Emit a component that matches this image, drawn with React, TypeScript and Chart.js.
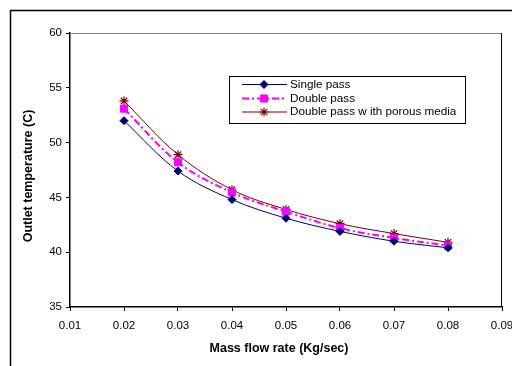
import React, { useEffect, useRef } from "react";
import { Chart, registerables } from "chart.js";

Chart.register(...registerables);

const massFlow = [0.02, 0.03, 0.04, 0.05, 0.06, 0.07, 0.08];
const singlePass = [52.0, 47.4, 44.8, 43.1, 41.9, 41.0, 40.4];
const doublePass = [53.1, 48.2, 45.45, 43.7, 42.2, 41.3, 40.6];
const porousPass = [53.8, 48.9, 45.7, 43.9, 42.6, 41.7, 40.9];
const seriesNames = ["Single pass", "Double pass", "Double pass w ith porous media"];
const xTicks = [0.01, 0.02, 0.03, 0.04, 0.05, 0.06, 0.07, 0.08, 0.09];
const yTicks = [35, 40, 45, 50, 55, 60];
const xTitle = "Mass flow rate (Kg/sec)";
const yTitle = "Outlet temperature (C)";

const FONT = "'Liberation Sans', Arial, sans-serif";

function drawMarker(ctx: CanvasRenderingContext2D, style: string, x: number, y: number, r: number, color: string) {
  ctx.save();
  ctx.fillStyle = color;
  ctx.strokeStyle = color;
  ctx.lineWidth = 1;
  ctx.beginPath();
  if (style === "rectRot") {
    ctx.moveTo(x, y - r);
    ctx.lineTo(x + r, y);
    ctx.lineTo(x, y + r);
    ctx.lineTo(x - r, y);
    ctx.closePath();
    ctx.fill();
    ctx.stroke();
  } else if (style === "rect") {
    const s = r * Math.SQRT1_2;
    ctx.rect(x - s, y - s, 2 * s, 2 * s);
    ctx.fill();
    ctx.stroke();
  } else {
    ctx.lineWidth = 1.2;
    for (let k = 0; k < 4; k++) {
      const a = (k * Math.PI) / 4;
      ctx.moveTo(x - Math.cos(a) * r, y - Math.sin(a) * r);
      ctx.lineTo(x + Math.cos(a) * r, y + Math.sin(a) * r);
    }
    ctx.stroke();
  }
  ctx.restore();
}

const framePlugin = {
  id: "frame",
  beforeDraw(chart: any) {
    const ctx = chart.ctx;
    ctx.save();
    ctx.fillStyle = "#fff";
    ctx.fillRect(0, 0, chart.width, chart.height);
    ctx.strokeStyle = "#000";
    ctx.lineWidth = 1.5;
    ctx.beginPath();
    ctx.moveTo(10.5, chart.height);
    ctx.lineTo(10.5, 10.5);
    ctx.lineTo(chart.width, 10.5);
    ctx.stroke();

    // axis titles
    ctx.fillStyle = "#000";
    ctx.font = "bold 12.5px " + FONT;
    ctx.textAlign = "center";
    ctx.textBaseline = "middle";
    ctx.fillText(xTitle, 279, 348.5);
    ctx.translate(28.5, 176);
    ctx.rotate(-Math.PI / 2);
    ctx.fillText(yTitle, 0, 0);
    ctx.restore();
  },
  afterDatasetsDraw(chart: any) {
    const { ctx, chartArea } = chart;
    const { left, right, top, bottom } = chartArea;
    ctx.save();
    ctx.lineWidth = 1;
    ctx.strokeStyle = "#808080";
    ctx.beginPath();
    ctx.moveTo(left, top + 0.5);
    ctx.lineTo(right, top + 0.5);
    ctx.stroke();
    ctx.strokeStyle = "#000";
    ctx.beginPath();
    ctx.moveTo(right - 0.5, top);
    ctx.lineTo(right - 0.5, bottom);
    ctx.stroke();

    // legend box
    const bx = 229.5, by = 76.5, bw = 236, bh = 47;
    ctx.fillStyle = "#fff";
    ctx.fillRect(bx, by, bw, bh);
    ctx.strokeStyle = "#000";
    ctx.lineWidth = 1;
    ctx.strokeRect(bx, by, bw, bh);
    const rowsY = [84.5, 98.5, 112];
    chart.data.datasets.forEach((ds: any, i: number) => {
      const y = rowsY[i];
      ctx.save();
      ctx.strokeStyle = ds.borderColor;
      ctx.lineWidth = ds.borderWidth;
      ctx.setLineDash(ds.borderDash || []);
      ctx.beginPath();
      ctx.moveTo(242, y);
      ctx.lineTo(287, y);
      ctx.stroke();
      ctx.restore();
      drawMarker(ctx, ds.pointStyle, 264, y, ds.pointRadius, ds.pointBackgroundColor);
      ctx.fillStyle = "#000";
      ctx.font = "11.7px " + FONT;
      ctx.textBaseline = "middle";
      ctx.fillText(seriesNames[i], 290, y);
    });
    ctx.restore();
  },
};

export default function App() {
  const ref = useRef<HTMLCanvasElement>(null);
  useEffect(() => {
    if (!ref.current) return;
    const chart = new Chart(ref.current, {
      type: "line",
      data: {
        datasets: [
          {
            label: seriesNames[0],
            data: massFlow.map((x, i) => ({ x, y: singlePass[i] })),
            borderColor: "#000080",
            backgroundColor: "#000080",
            pointBackgroundColor: "#000080",
            pointBorderColor: "#000080",
            pointBorderWidth: 1,
            borderWidth: 1,
            pointStyle: "rectRot",
            pointRadius: 4,
            tension: 0.35,
          },
          {
            label: seriesNames[1],
            data: massFlow.map((x, i) => ({ x, y: doublePass[i] })),
            borderColor: "#FF00FF",
            backgroundColor: "#FF00FF",
            pointBackgroundColor: "#FF00FF",
            pointBorderColor: "#FF00FF",
            pointBorderWidth: 1,
            borderWidth: 2,
            borderDash: [7, 3, 2, 3],
            pointStyle: "rect",
            pointRadius: 5,
            tension: 0.35,
          },
          {
            label: seriesNames[2],
            data: massFlow.map((x, i) => ({ x, y: porousPass[i] })),
            borderColor: "#800000",
            backgroundColor: "#800000",
            pointBackgroundColor: "#800000",
            pointBorderColor: "#800000",
            pointBorderWidth: 1.2,
            borderWidth: 1,
            pointStyle: "star",
            pointRadius: 4.5,
            tension: 0.35,
          },
        ],
      },
      options: {
        responsive: false,
        animation: false,
        layout: { padding: { left: 21, top: 33, right: 10, bottom: 10 } },
        plugins: {
          legend: { display: false },
          tooltip: { enabled: false },
        },
        scales: {
          x: {
            type: "linear",
            min: 0.01,
            max: 0.09,
            afterBuildTicks: (s: any) => {
              s.ticks = xTicks.map((v) => ({ value: v }));
            },
            afterFit: (s: any) => {
              s.height = 49;
              s.paddingLeft = 0;
              s.paddingRight = 0;
            },
            ticks: {
              color: "#000",
              font: { family: FONT, size: 11.5 },
              padding: 8,
              maxRotation: 0,
              autoSkip: false,
              callback: (v: any) => Number(v).toFixed(2),
            },
            grid: { drawOnChartArea: false, tickLength: 4, color: "#000" },
            border: { color: "#000", width: 1.5 },
            title: { display: false },
          },
          y: {
            type: "linear",
            min: 35,
            max: 60,
            afterBuildTicks: (s: any) => {
              s.ticks = yTicks.map((v) => ({ value: v }));
            },
            afterFit: (s: any) => {
              s.width = 49;
              s.paddingTop = 0;
              s.paddingBottom = 0;
            },
            ticks: {
              color: "#000",
              font: { family: FONT, size: 11.5 },
              padding: 4,
            },
            grid: { drawOnChartArea: false, tickLength: 4, color: "#000" },
            border: { color: "#000", width: 1.5 },
            title: { display: false },
          },
        },
      },
      plugins: [framePlugin],
    } as any);
    return () => chart.destroy();
  }, []);
  return (
    <div style={{ position: "absolute", left: 0, top: 0, width: 512, height: 366 }}>
      <canvas ref={ref} width={512} height={366} />
    </div>
  );
}
